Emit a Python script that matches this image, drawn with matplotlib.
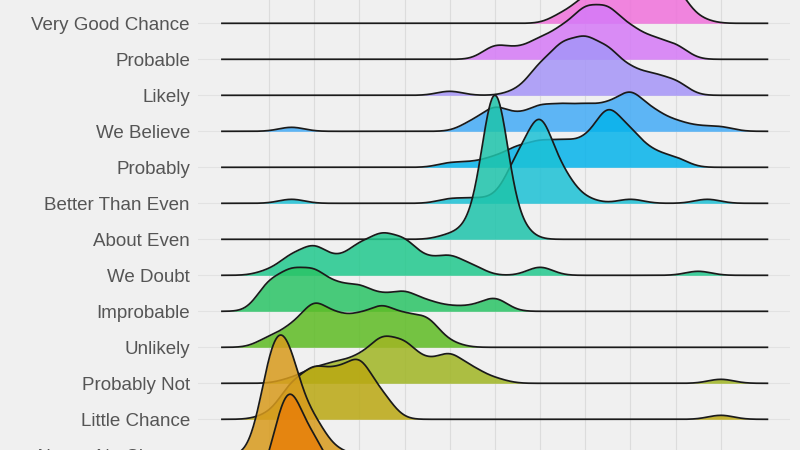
import numpy as np
import matplotlib.pyplot as plt

# phrases from top to bottom
phrases = ["Very Good Chance", "Probable", "Likely", "We Believe", "Probably",
           "Better Than Even", "About Even", "We Doubt", "Improbable", "Unlikely",
           "Probably Not", "Little Chance", "Almost No Chance", "Chances Are Slim"]

# answers (probability in %) and how many people gave each answer
vgc_vals = [65, 70, 75, 80, 85, 90, 95]
vgc_counts = [2, 5, 8, 11, 10, 7, 1]
probable_vals = [50, 55, 60, 65, 70, 75, 80, 85, 90]
probable_counts = [3, 2, 4, 6, 10, 10, 6, 4, 3]
likely_vals = [40, 55, 60, 65, 70, 75, 80, 85, 90]
likely_counts = [1, 1, 6, 10, 11, 9, 5, 4, 3]
believe_vals = [5, 45, 50, 55, 60, 65, 70, 75, 80, 85, 90, 95, 100]
believe_counts = [1, 2, 5, 3, 5, 5, 5, 5, 8, 4, 2, 1, 1]
probably_vals = [40, 45, 50, 55, 60, 65, 70, 75, 80, 85, 90]
probably_counts = [1, 1, 2, 4, 5, 5, 5, 12, 7, 3, 2]
better_vals = [5, 40, 45, 50, 55, 60, 65, 70, 80, 97]
better_counts = [1, 1, 1, 1, 9, 18, 6, 1, 1, 1]
even_vals = [40, 45, 50, 55]
even_counts = [1, 3, 35, 3]
doubt_vals = [0, 5, 10, 15, 20, 25, 30, 35, 40, 45, 60, 95]
doubt_counts = [1, 4, 6, 3, 6, 8, 7, 3, 4, 2, 2, 1]
improbable_vals = [0, 5, 10, 15, 20, 25, 30, 35, 40, 45, 50]
improbable_counts = [6, 8, 8, 5, 5, 3, 4, 2, 1, 1, 3]
unlikely_vals = [0, 5, 10, 15, 20, 25, 30, 35, 40]
unlikely_counts = [2, 4, 9, 6, 6, 8, 6, 6, 1]
probnot_vals = [5, 10, 15, 20, 25, 30, 35, 40, 45, 50, 100]
probnot_counts = [1, 3, 4, 5, 9, 8, 4, 6, 3, 1, 1]
little_vals = [0, 5, 10, 15, 20, 25, 100]
little_counts = [1, 7, 10, 9, 12, 5, 1]
nochance_vals = [0, 1, 2, 3, 5, 10, 15]
nochance_counts = [9, 7, 5, 3, 15, 7, 1]
slim_vals = [1, 2, 3, 5, 10, 15]
slim_counts = [2, 4, 3, 17, 10, 3]

colors = ["#F071DB", "#D57AF7", "#A595F8", "#43ABF7", "#05B3EB", "#1CC1D6", "#1EC4AB",
          "#21C98D", "#2AC466", "#5EBC24", "#A0B624", "#BAA812", "#D89B1C", "#E77F09"]

values = [vgc_vals, probable_vals, likely_vals, believe_vals, probably_vals, better_vals,
          even_vals, doubt_vals, improbable_vals, unlikely_vals, probnot_vals,
          little_vals, nochance_vals, slim_vals]
counts = [vgc_counts, probable_counts, likely_counts, believe_counts, probably_counts,
          better_counts, even_counts, doubt_counts, improbable_counts, unlikely_counts,
          probnot_counts, little_counts, nochance_counts, slim_counts]

bw = 2.8
x = np.linspace(-10.4, 110.3, 800)


def ridge(vals, cnts):
    v = np.asarray(vals, float)[:, None]
    c = np.asarray(cnts, float)[:, None]
    return (c * np.exp(-0.5 * ((x - v) / bw) ** 2)).sum(axis=0)


dens = [ridge(v, c) for v, c in zip(values, counts)]
top = max(d.max() for d in dens)
scale = 4.0
n = len(phrases)

fig = plt.figure(figsize=(8, 4.5), dpi=100, facecolor="#f0f0f0")
ax = fig.add_axes([198 / 800, -0.1318, 592 / 800, 1.2])
ax.set_facecolor("#f0f0f0")
ax.set_xlim(-15.7, 115.3)
ax.set_ylim(-0.5, 14.5)

for xv in range(0, 101, 10):
    ax.axvline(xv, color="#dcdcdc", lw=0.8, zorder=0)

bases = []
for i, (d, col) in enumerate(zip(dens, colors)):
    base = n - 1 - i
    bases.append(base)
    ax.axhline(base, color="#e2e2e2", lw=0.8, zorder=0)
    y = base + d / top * scale
    ax.fill_between(x, base, y, color=col, alpha=0.85, lw=0, zorder=2 + i)
    ax.plot(x, y, color="#1a1a1a", lw=1.25, zorder=2 + i)

ax.set_yticks(bases)
ax.set_yticklabels(phrases, fontsize=13.5, color="#555555", family="Liberation Sans")
ax.tick_params(axis="y", length=0, pad=5.8)
ax.tick_params(axis="x", length=0, labelbottom=False)
for s in ax.spines.values():
    s.set_visible(False)

fig.savefig("out.png", dpi=100, facecolor=fig.get_facecolor())
